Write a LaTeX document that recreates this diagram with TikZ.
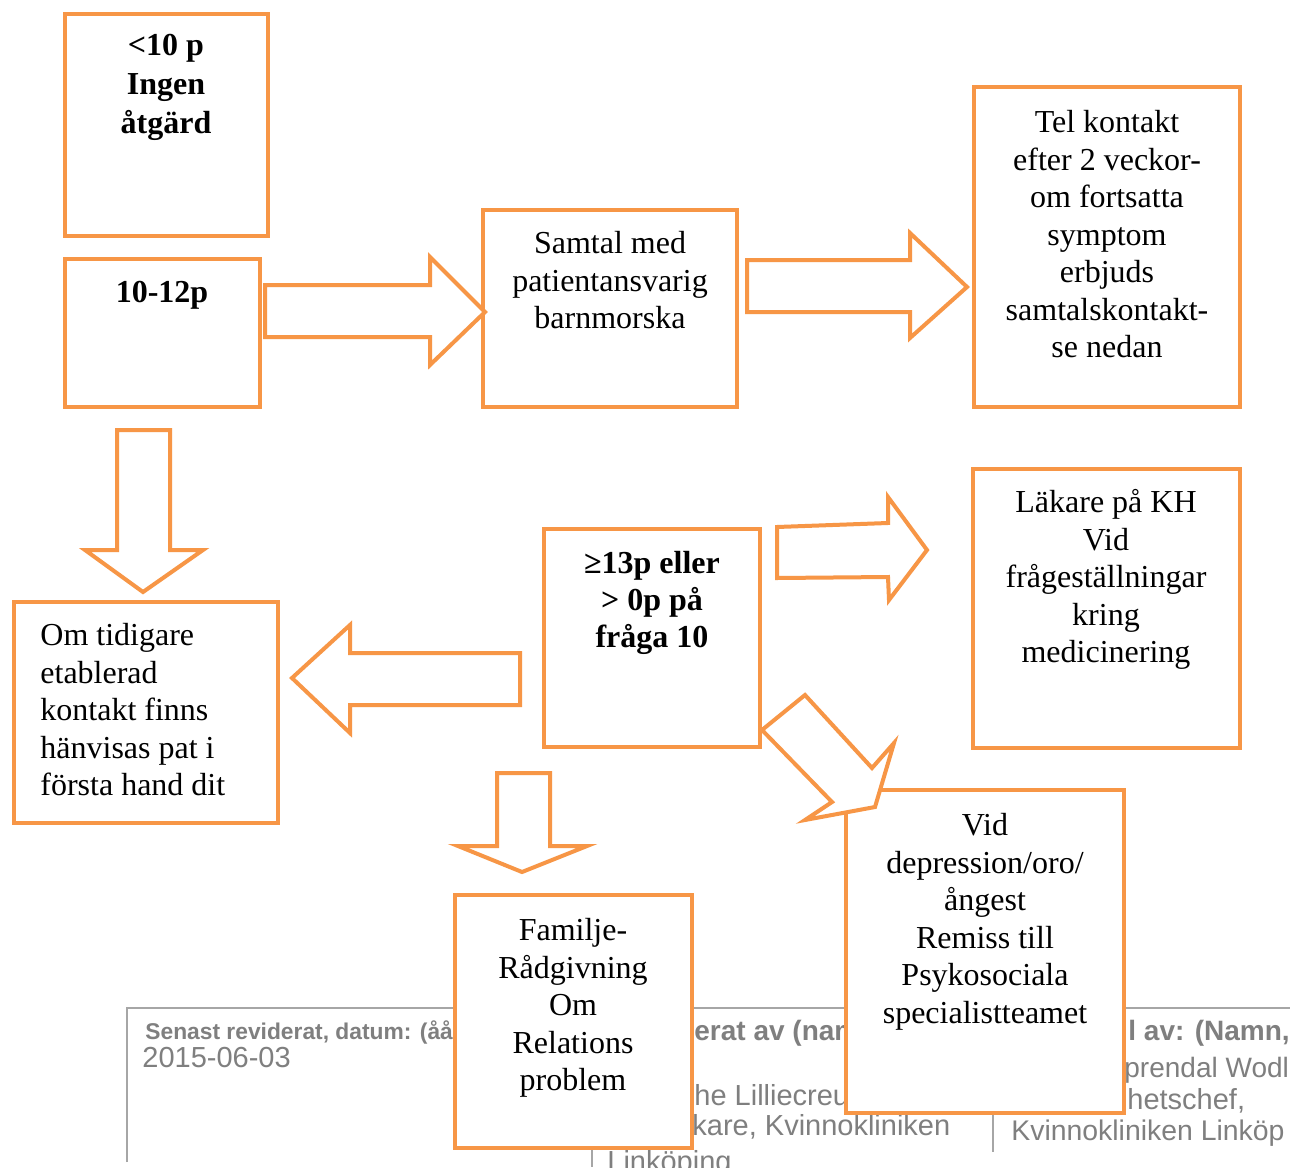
\documentclass[tikz,border=0pt]{standalone}
\usepackage{fontspec}
\setmainfont{Liberation Serif}
\setsansfont{Liberation Sans}
\usetikzlibrary{fit}
\definecolor{boxorange}{HTML}{F79646}
\definecolor{tblgray}{HTML}{A6A6A6}
\definecolor{tgray}{HTML}{7F7F7F}
\begin{document}
\begin{tikzpicture}[x=0.5pt,y=-0.5pt,
 box/.style={draw=boxorange,line width=2pt,fill=white,inner sep=0pt},
 btxt/.style={font=\fontsize{16}{18.75}\selectfont,align=center,inner sep=0pt,anchor=north},
 bbtxt/.style={btxt,font=\fontsize{16}{19}\selectfont\bfseries},
 ltxt/.style={btxt,align=left,anchor=north west},
 barrow/.style={draw=boxorange,line width=2pt,fill=white,line join=miter},
 tline/.style={draw=tblgray,line width=1pt},
 thead/.style={text=tgray,font=\sffamily\bfseries\fontsize{14}{16}\selectfont,anchor=west,inner sep=0pt},
 tsmall/.style={text=tgray,font=\sffamily\bfseries\fontsize{11.4}{13}\selectfont,anchor=west,inner sep=0pt},
 tcell/.style={text=tgray,font=\sffamily\fontsize{14.5}{16}\selectfont,anchor=west,inner sep=0pt},
]
\useasboundingbox[fill=white] (0,0) rectangle (1290,1167);

% background table
\begin{scope}
\clip (0,0) rectangle (1290,1167);
\draw[tline] (127,1162) -- (127,1008) -- (1290,1008);
\draw[tline] (592,1008) -- (592,1167);
\draw[tline] (993,1008) -- (993,1152);
\node[tsmall] (h1) at (145,1032) {Senast reviderat, datum: (åå};
\node[tcell] (d1) at (142,1058) {2015-06-03};
\node[thead] (h2) at (694,1033) {erat av (namn};
\node[tcell] (n2) at (694,1095) {he Lilliecreutz};
\node[tcell] (r2) at (692,1127) {kare, Kvinnokliniken};
\node[tcell,anchor=north west] (l2) at (607,1150) {Linköping};
\node[thead] (h3) at (1128,1033) {l av: (Namn,};
\node[tcell,font=\sffamily\fontsize{14}{16}\selectfont] (n3) at (1124,1070) {prendal Wodl};
\node[tcell] (r3) at (1127,1101) {hetschef,};
\node[tcell,font=\sffamily\fontsize{14.2}{16}\selectfont] (k3) at (1011,1133) {Kvinnokliniken Linköp};
\end{scope}

% boxes
\node[box,fit={(65,14)(268,236)}] (a) {};
\node[bbtxt,font=\fontsize{16}{19.5}\selectfont\bfseries] (at) at (166,34) {<10 p\\Ingen\\åtgärd};
\node[box,fit={(65,259)(260,407)}] (b) {};
\node[bbtxt] (bt) at (162,281) {10-12p};
\node[box,fit={(483,210)(737,407)}] (c) {};
\node[btxt] (ct) at (610,231) {Samtal med\\patientansvarig\\barnmorska};
\node[box,fit={(974,87)(1240,407)}] (d) {};
\node[btxt] (dt) at (1107,110) {Tel kontakt\\efter 2 veckor-\\om fortsatta\\symptom\\erbjuds\\samtalskontakt-\\se nedan};
\node[box,fit={(973,469)(1240,748)}] (e) {};
\node[btxt] (et) at (1106,489) {Läkare på KH\\Vid\\frågeställningar\\kring\\medicinering};
\node[box,fit={(544,529)(760,747)}] (f) {};
\node[bbtxt,font=\fontsize{16}{18.5}\selectfont\bfseries] (ft) at (652,551) {≥13p eller\\> 0p på\\fråga 10};
\node[box,fit={(14,602)(278,823)}] (g) {};
\node[ltxt] (gt) at (40,623) {Om tidigare\\etablerad\\kontakt finns\\hänvisas pat i\\första hand dit};
\node[box,fit={(455,895)(692,1148)}] (h) {};
\node[btxt] (ht) at (573,918) {Familje-\\Rådgivning\\Om\\Relations\\problem};
\node[box,fit={(846,790)(1124,1113)}] (i) {};
\node[btxt] (it) at (985,813) {Vid\\depression/oro/\\ångest\\Remiss till\\Psykosociala\\specialistteamet};

% block arrows
\draw[barrow] (265,285) -- (430,285) -- (430,257) -- (485,312) -- (430,365) -- (430,337) -- (265,337) -- cycle;
\draw[barrow] (747,260) -- (910,260) -- (910,233) -- (967,287) -- (910,338) -- (910,312) -- (747,312) -- cycle;
\draw[barrow] (777,527) -- (888,523) -- (888,497) -- (927,550) -- (889,600) -- (888,577) -- (777,578) -- cycle;
\draw[barrow] (117,430) -- (170,430) -- (170,550) -- (203,550) -- (143,592) -- (85,550) -- (117,550) -- cycle;
\draw[barrow] (520,653) -- (520,705) -- (350,705) -- (350,733) -- (292,678) -- (350,625) -- (350,653) -- cycle;
\draw[barrow] (497,773) -- (550,773) -- (550,846) -- (587,846) -- (522,872) -- (458,846) -- (497,846) -- cycle;
\draw[barrow] (762,730) -- (805,695) -- (872,768) -- (894,743) -- (875,807) -- (805,820) -- (832,802) -- cycle;
\end{tikzpicture}
\end{document}
